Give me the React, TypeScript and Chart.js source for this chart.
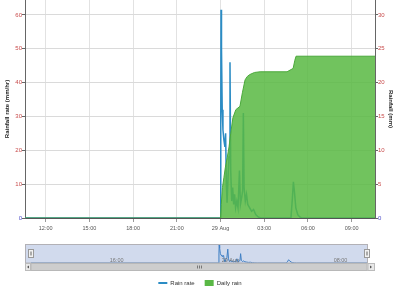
import React, { useEffect, useRef } from 'react';
import { Chart, registerables } from 'chart.js';

Chart.register(...registerables);

// minutes relative to 29 Aug 00:00
const X_MIN = -805;
const X_MAX = 636;

const xTickValues = [-720, -540, -360, -180, 0, 180, 360, 540];
const xTickLabels = ['12:00', '15:00', '18:00', '21:00', '29 Aug', '03:00', '06:00', '09:00'];

const navTickValues = [-480, 0, 480];
const navTickLabels = ['16:00', '29 Aug', '08:00'];

const rainRateMinutes = [
  -805, 0, 1, 2, 4, 7, 10, 14, 18, 21, 24, 27, 31, 35, 39, 42, 46, 50, 54, 58, 62, 67, 72, 78, 82, 87, 91,
  94, 97, 102, 107, 112, 120, 128, 136, 145, 155, 165, 290, 296, 300, 304, 310, 318, 326, 334, 636,
];
const rainRateValues = [
  0, 0, 30, 61.5, 50, 32, 26, 23, 21, 25, 10, 4.5, 12, 18, 46, 14, 5, 9, 4, 7, 3, 5, 3, 14, 4, 6, 8,
  31, 9, 5, 7, 4, 3, 2, 2.5, 1, 0.3, 0, 0, 6, 10.7, 8, 3, 1, 0.3, 0, 0,
];

const dailyRainMinutes = [
  -805, 0, 3, 8, 14, 20, 28, 35, 42, 51, 63, 80, 90, 101, 110, 121, 140, 163, 274, 299, 306, 311, 636,
];
const dailyRainValues = [
  0, 0, 2, 4.5, 6, 7.5, 9, 10.5, 12.5, 14.8, 16, 16.5, 18.5, 20.4, 20.9, 21.2, 21.5, 21.6, 21.6, 22.1, 23.3, 23.9, 23.9,
];

const leftTitle = 'Rainfall rate (mm/hr)';
const rightTitle = 'Rainfall (mm)';
const seriesNames = ['Rain rate', 'Daily rain'];

const FAMILY = "'Liberation Sans', Arial, sans-serif";
const BLUE = '#2b8cc4';
const GREEN = '#5ab846';

export default function App() {
  const mainRef = useRef<HTMLCanvasElement>(null);
  const navRef = useRef<HTMLCanvasElement>(null);

  useEffect(() => {
    document.body.style.margin = '0';
    const rainData = rainRateMinutes.map((m, i) => ({ x: m, y: rainRateValues[i] }));
    const dailyData = dailyRainMinutes.map((m, i) => ({ x: m, y: dailyRainValues[i] }));

    const labelColor = (ctx: any) => (ctx.tick && ctx.tick.value === 0 ? '#4b4bc8' : '#c84b4b');

    const main = new Chart(mainRef.current!, {
      type: 'line',
      data: {
        datasets: [
          {
            label: seriesNames[0],
            data: rainData,
            yAxisID: 'y',
            borderColor: BLUE,
            backgroundColor: BLUE,
            borderWidth: 1.5,
            pointRadius: 0,
            fill: false,
            tension: 0,
            order: 1,
          },
          {
            label: seriesNames[1],
            data: dailyData,
            yAxisID: 'y1',
            borderColor: '#4aa83a',
            backgroundColor: 'rgba(88,184,66,0.85)',
            borderWidth: 1,
            pointRadius: 0,
            fill: 'origin',
            tension: 0,
            order: 0,
          },
        ],
      },
      options: {
        responsive: false,
        animation: false,
        devicePixelRatio: 1,
        layout: { padding: { left: 0, right: 0, top: 0, bottom: -2 } },
        plugins: {
          tooltip: { enabled: false },
          legend: {
            display: true,
            position: 'bottom',
            labels: {
              usePointStyle: true,
              pointStyleWidth: 9,
              boxHeight: 7,
              padding: 10,
              color: '#333',
              font: { family: FAMILY, size: 6 },
              generateLabels: () => [
                {
                  text: seriesNames[0],
                  datasetIndex: 0,
                  pointStyle: 'line',
                  strokeStyle: BLUE,
                  fillStyle: BLUE,
                  lineWidth: 2,
                  hidden: false,
                  fontColor: '#333',
                },
                {
                  text: seriesNames[1],
                  datasetIndex: 1,
                  pointStyle: 'rect',
                  strokeStyle: GREEN,
                  fillStyle: GREEN,
                  lineWidth: 0,
                  hidden: false,
                  fontColor: '#333',
                },
              ],
            },
          },
        },
        scales: {
          x: {
            type: 'linear',
            min: X_MIN,
            max: X_MAX,
            afterBuildTicks: (s: any) => {
              s.ticks = xTickValues.map((v) => ({ value: v }));
            },
            afterFit: (s: any) => {
              s.height = 52;
            },
            ticks: {
              autoSkip: false,
              maxRotation: 0,
              minRotation: 0,
              padding: 3,
              color: '#555',
              font: { family: FAMILY, size: 5.5 },
              callback: (v: any) => {
                const i = xTickValues.indexOf(Number(v));
                return i >= 0 ? xTickLabels[i] : '';
              },
            },
            grid: { color: '#e2e2e2', tickLength: 4, tickColor: '#999' },
            border: { color: '#555', width: 1 },
          },
          y: {
            position: 'left',
            min: 0,
            max: 64.4,
            afterFit: (s: any) => {
              s.width = 25;
            },
            ticks: {
              stepSize: 2,
              includeBounds: false,
              autoSkip: false,
              padding: 0,
              color: labelColor,
              font: { family: FAMILY, size: 6, lineHeight: 0.01 },
              callback: (v: any) => (Number(v) % 10 === 0 ? String(v) : null),
            },
            grid: {
              color: (ctx: any) => (ctx.tick && ctx.tick.value % 10 === 0 ? '#dadada' : '#ebebeb'),
              tickLength: 3,
              tickColor: (ctx: any) => (ctx.tick && ctx.tick.value % 10 === 0 ? '#666' : 'rgba(0,0,0,0)'),
            },
            border: { color: '#666', width: 1 },
            title: {
              display: true,
              text: leftTitle,
              color: '#222',
              font: { family: FAMILY, size: 6, weight: 'bold' },
              padding: { top: 4, bottom: 0 },
            },
          },
          y1: {
            position: 'right',
            min: 0,
            max: 32.2,
            afterFit: (s: any) => {
              s.width = 25;
            },
            ticks: {
              stepSize: 5,
              includeBounds: false,
              autoSkip: false,
              padding: 0,
              color: labelColor,
              font: { family: FAMILY, size: 6, lineHeight: 0.01 },
            },
            grid: { drawOnChartArea: false, tickLength: 3, tickColor: '#666' },
            border: { color: '#666', width: 1 },
            title: {
              display: true,
              text: rightTitle,
              color: '#222',
              font: { family: FAMILY, size: 6, weight: 'bold' },
              padding: { top: 6, bottom: 0 },
            },
          },
        },
      },
    } as any);

    const navPlugin = {
      id: 'navDeco',
      beforeDatasetsDraw(chart: any) {
        const { ctx, chartArea: a } = chart;
        ctx.save();
        ctx.fillStyle = 'rgba(102,133,194,0.3)';
        ctx.fillRect(1, a.top, a.right - 1, a.bottom - a.top);
        ctx.restore();
      },
      afterDatasetsDraw(chart: any) {
        const { ctx, chartArea: a } = chart;
        const xs = chart.scales.x;
        ctx.save();
        // labels
        ctx.font = `5.5px ${FAMILY}`;
        ctx.fillStyle = '#777';
        ctx.textAlign = 'left';
        ctx.textBaseline = 'alphabetic';
        navTickValues.forEach((v, i) => {
          const px = xs.getPixelForValue(v);
          ctx.fillText(navTickLabels[i], px + 3, a.bottom - 1);
        });
        // outline
        ctx.strokeStyle = '#b2b1b6';
        ctx.lineWidth = 1;
        ctx.strokeRect(0.5, 0.5, a.right, a.bottom - 0.5);
        // handles
        [a.left, a.right].forEach((hx: number) => {
          const x0 = Math.round(hx) - 2.5;
          ctx.fillStyle = '#f2f2f2';
          ctx.strokeStyle = '#999';
          ctx.fillRect(x0, 5.5, 5, 8);
          ctx.strokeRect(x0, 5.5, 5, 8);
          ctx.beginPath();
          ctx.moveTo(x0 + 2, 7.5);
          ctx.lineTo(x0 + 2, 11.5);
          ctx.moveTo(x0 + 3, 7.5);
          ctx.lineTo(x0 + 3, 11.5);
          ctx.strokeStyle = '#aaa';
          ctx.stroke();
        });
        // scrollbar
        const sy = Math.round(a.bottom) + 0.5;
        const sh = 7;
        const W = chart.width;
        ctx.fillStyle = '#eeeeee';
        ctx.strokeStyle = '#cccccc';
        ctx.fillRect(0.5, sy, W - 1, sh);
        ctx.strokeRect(0.5, sy, W - 1, sh);
        ctx.fillStyle = '#cdcdcd';
        ctx.strokeStyle = '#b8b8b8';
        ctx.fillRect(a.left, sy, a.right - a.left, sh);
        ctx.strokeRect(a.left, sy, a.right - a.left, sh);
        // buttons
        ctx.fillStyle = '#e8e8e8';
        ctx.strokeStyle = '#bbb';
        ctx.fillRect(0.5, sy, a.left - 1, sh);
        ctx.strokeRect(0.5, sy, a.left - 1, sh);
        ctx.fillRect(a.right + 1, sy, W - a.right - 1.5, sh);
        ctx.strokeRect(a.right + 1, sy, W - a.right - 1.5, sh);
        ctx.fillStyle = '#555';
        const cy = sy + sh / 2;
        const lx = a.left / 2;
        ctx.beginPath();
        ctx.moveTo(lx - 1, cy);
        ctx.lineTo(lx + 1, cy - 1.5);
        ctx.lineTo(lx + 1, cy + 1.5);
        ctx.closePath();
        ctx.fill();
        const rx = (a.right + W) / 2;
        ctx.beginPath();
        ctx.moveTo(rx + 1, cy);
        ctx.lineTo(rx - 1, cy - 1.5);
        ctx.lineTo(rx - 1, cy + 1.5);
        ctx.closePath();
        ctx.fill();
        // grip
        const gx = Math.round((a.left + a.right) / 2) + 0.5;
        ctx.strokeStyle = '#777';
        ctx.beginPath();
        for (const d of [-2, 0, 2]) {
          ctx.moveTo(gx + d, sy + 2);
          ctx.lineTo(gx + d, sy + sh - 2);
        }
        ctx.stroke();
        ctx.restore();
      },
    };

    const nav = new Chart(navRef.current!, {
      type: 'line',
      data: {
        datasets: [
          {
            label: seriesNames[0],
            data: rainData,
            borderColor: '#3f7fc4',
            backgroundColor: 'rgba(69,114,167,0.08)',
            borderWidth: 1,
            pointRadius: 0,
            fill: 'origin',
            tension: 0,
          },
        ],
      },
      options: {
        responsive: false,
        animation: false,
        devicePixelRatio: 1,
        layout: { padding: { left: 6, right: 8, top: 0, bottom: 9 } },
        plugins: { legend: { display: false }, tooltip: { enabled: false } },
        scales: {
          x: { type: 'linear', display: false, min: X_MIN, max: X_MAX },
          y: { display: false, min: 0, max: 63 },
        },
      },
      plugins: [navPlugin],
    } as any);

    return () => {
      main.destroy();
      nav.destroy();
    };
  }, []);

  return (
    <div style={{ position: 'relative', width: 400, height: 294, background: '#fff', overflow: 'hidden' }}>
      <canvas
        ref={mainRef}
        width={400}
        height={294}
        style={{ position: 'absolute', left: 0, top: 0, width: 400, height: 294 }}
      />
      <canvas
        ref={navRef}
        width={350}
        height={28}
        style={{ position: 'absolute', left: 25, top: 244, width: 350, height: 28 }}
      />
    </div>
  );
}
